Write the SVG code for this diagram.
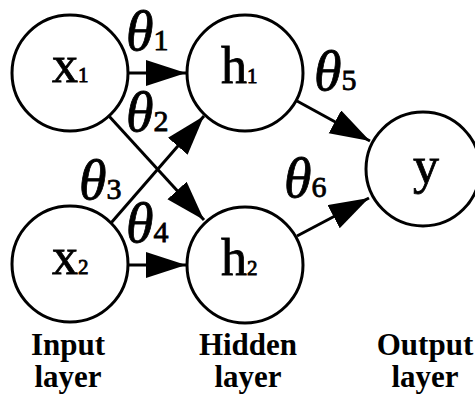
<svg xmlns="http://www.w3.org/2000/svg" width="475" height="396" viewBox="0 0 475 396">
<defs>
<style>
.node{fill:#fff;stroke:#000;stroke-width:3}
.edge{stroke:#000;stroke-width:3;fill:none}
.lbl{font-family:"Liberation Serif","DejaVu Serif",serif;font-size:52px;fill:#000;stroke:#000;stroke-width:0.8}
.sub{font-size:21px}
.th{font-family:"Liberation Serif","DejaVu Serif",serif;font-size:56px;font-style:italic;fill:#000;stroke:#000;stroke-width:0.8}
.ths{font-style:normal;font-size:30px}
.cap{font-family:"Liberation Serif","DejaVu Serif",serif;font-size:31px;font-weight:bold;fill:#000;text-anchor:middle}
</style>
<marker id="ah" markerUnits="userSpaceOnUse" markerWidth="42" markerHeight="28" refX="40" refY="13" orient="auto">
<path d="M0,0 L40,13 L0,26 Z" fill="#000"/>
</marker>
</defs>
<rect width="475" height="396" fill="#fff"/>
<g id="connectors">
<line class="edge" x1="128" y1="73" x2="186" y2="73" marker-end="url(#ah)"/>
<line class="edge" x1="108" y1="115" x2="204" y2="220" marker-end="url(#ah)"/>
<line class="edge" x1="111" y1="223" x2="204" y2="116" marker-end="url(#ah)"/>
<line class="edge" x1="128" y1="265" x2="186" y2="265" marker-end="url(#ah)"/>
<line class="edge" x1="297" y1="101" x2="370" y2="141" marker-end="url(#ah)"/>
<line class="edge" x1="297" y1="236" x2="369" y2="198" marker-end="url(#ah)"/>
</g>
<g id="x1"><circle class="node" cx="70" cy="73" r="58"/><text class="lbl" x="52" y="82">x<tspan class="sub">1</tspan></text></g>
<g id="x2"><circle class="node" cx="70" cy="264" r="58"/><text class="lbl" x="52" y="274">x<tspan class="sub">2</tspan></text></g>
<g id="h1"><circle class="node" cx="245" cy="73" r="58"/><text class="lbl" x="221" y="83">h<tspan class="sub">1</tspan></text></g>
<g id="h2"><circle class="node" cx="245" cy="265" r="58"/><text class="lbl" x="221" y="275">h<tspan class="sub">2</tspan></text></g>
<g id="y"><circle class="node" cx="423" cy="169" r="57"/><text class="lbl" x="413" y="183">y</text></g>
<g id="weights">
<text class="th" x="126" y="50">θ<tspan class="ths">1</tspan></text>
<text class="th" x="126" y="131">θ<tspan class="ths">2</tspan></text>
<text class="th" x="79" y="199">θ<tspan class="ths">3</tspan></text>
<text class="th" x="126" y="242">θ<tspan class="ths">4</tspan></text>
<text class="th" x="314" y="90">θ<tspan class="ths">5</tspan></text>
<text class="th" x="284" y="197">θ<tspan class="ths">6</tspan></text>
</g>
<g id="captions">
<text class="cap" x="68" y="355">Input</text>
<text class="cap" x="68" y="387">layer</text>
<text class="cap" x="248" y="355">Hidden</text>
<text class="cap" x="248" y="387">layer</text>
<text class="cap" x="425" y="355">Output</text>
<text class="cap" x="425" y="387">layer</text>
</g>
</svg>
